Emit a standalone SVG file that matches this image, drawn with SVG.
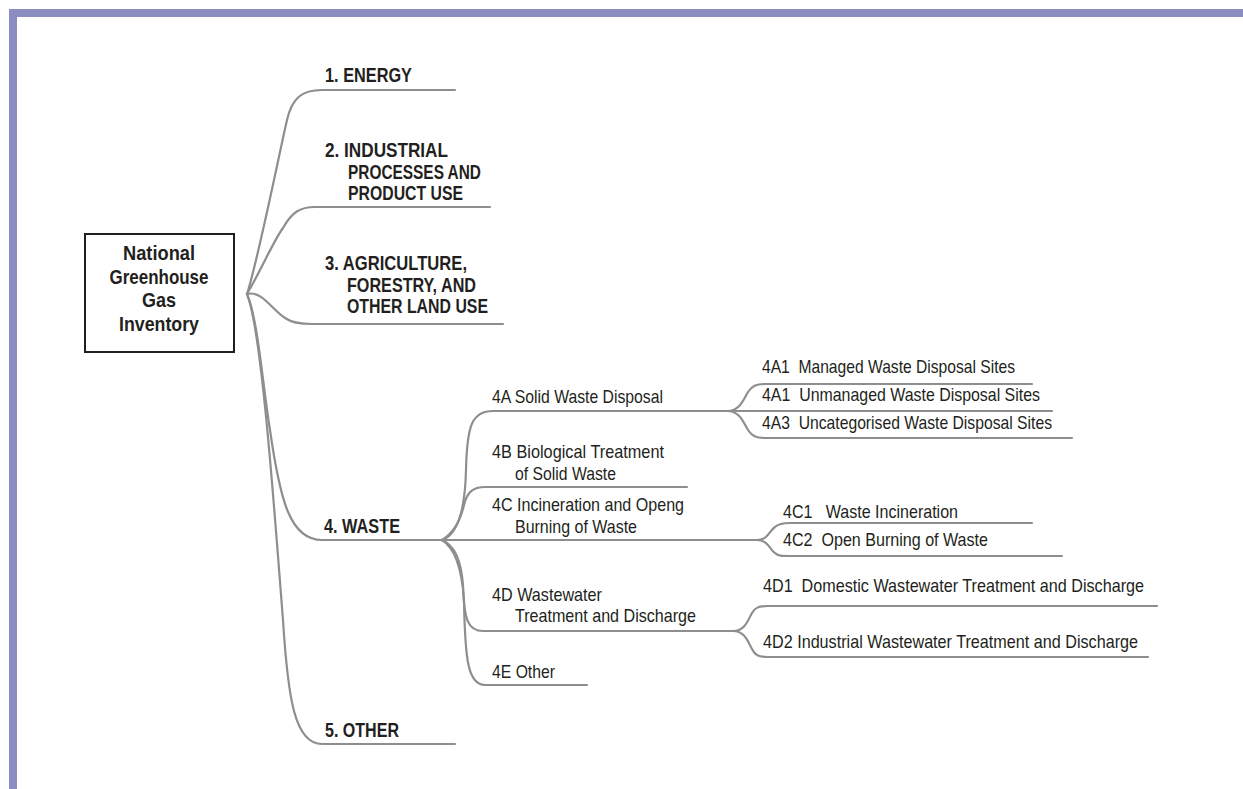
<svg xmlns="http://www.w3.org/2000/svg" width="1243" height="789" viewBox="0 0 1243 789">
<style>
.frame{fill:#8b8cbf}
.c{fill:none;stroke:#8e8e8e;stroke-width:2.2;stroke-linecap:round}
.b{font-family:"Liberation Sans",Arial,sans-serif;font-weight:bold;font-size:21px;fill:#231f20}
.r{font-family:"Liberation Sans",Arial,sans-serif;font-size:18.5px;fill:#231f20}
.box{fill:#fff;stroke:#231f20;stroke-width:2}
</style>
<rect width="1243" height="789" fill="#fff"/>
<rect class="frame" x="9" y="9" width="1234" height="8"/>
<rect class="frame" x="9" y="9" width="8" height="780"/>
<g id="connectors">
<path class="c" d="M247,294 C258,260 280,150 287,120 C292,98 302,90 322,90 L455,90"/>
<path class="c" d="M247,294 C262,268 274,240 283,228 C292,212 300,207 315,207 L490,207"/>
<path class="c" d="M247,294 C262,290 272,310 285,318 C292,323 300,324 312,324 L503,324"/>
<path class="c" d="M247,294 C258,320 262,380 270,430 C280,500 290,540 322,540 L442,540"/>
<path class="c" d="M247,294 C262,330 275,520 283,620 C288,700 295,744 322,744 L455,744"/>
<path class="c" d="M442,540 C458,535 465,510 466,470 C467,425 472,411 493,411 L727,411"/>
<path class="c" d="M442,540 C455,532 461,518 464,505 C467,492 473,487 485,487 L687,487"/>
<path class="c" d="M442,540 L757,540"/>
<path class="c" d="M442,540 C455,546 461,560 463,585 C464,620 468,631 483,631 L735,631"/>
<path class="c" d="M442,540 C455,548 462,570 464,600 C465,660 468,685 485,685 L587,685"/>
<path class="c" d="M727,411 C740,411 743,400 748,392 C752,386 756,384 765,384 L1032,384"/>
<path class="c" d="M727,411 L1052,411"/>
<path class="c" d="M727,411 C740,411 743,422 748,430 C752,436 756,438 765,438 L1072,438"/>
<path class="c" d="M757,540 C768,540 770,530 775,527 C778,524 782,523 790,523 L1032,523"/>
<path class="c" d="M757,540 C768,540 770,550 775,553 C778,556 782,556 790,556 L1062,556"/>
<path class="c" d="M733,631 C745,631 748,620 752,613 C755,608 758,606 768,606 L1157,606"/>
<path class="c" d="M733,631 C745,631 748,642 752,649 C755,655 758,657 768,657 L1148,657"/>
</g>
<g id="root">
<rect class="box" x="85" y="234" width="149" height="118"/>
<text class="b" x="159" y="260" text-anchor="middle" textLength="72" lengthAdjust="spacingAndGlyphs">National</text>
<text class="b" x="159" y="284" text-anchor="middle" textLength="99" lengthAdjust="spacingAndGlyphs">Greenhouse</text>
<text class="b" x="159" y="307" text-anchor="middle" textLength="34" lengthAdjust="spacingAndGlyphs">Gas</text>
<text class="b" x="159" y="331" text-anchor="middle" textLength="80" lengthAdjust="spacingAndGlyphs">Inventory</text>
</g>
<g id="n1">
<text class="b" x="325" y="82" textLength="87" lengthAdjust="spacingAndGlyphs">1. ENERGY</text>
</g>
<g id="n2">
<text class="b" x="325" y="157" textLength="123" lengthAdjust="spacingAndGlyphs">2. INDUSTRIAL</text>
<text class="b" x="348" y="179" textLength="133" lengthAdjust="spacingAndGlyphs">PROCESSES AND</text>
<text class="b" x="348" y="200" textLength="115" lengthAdjust="spacingAndGlyphs">PRODUCT USE</text>
</g>
<g id="n3">
<text class="b" x="325" y="270" textLength="142" lengthAdjust="spacingAndGlyphs">3. AGRICULTURE,</text>
<text class="b" x="347" y="292" textLength="129" lengthAdjust="spacingAndGlyphs">FORESTRY, AND</text>
<text class="b" x="347" y="313" textLength="141" lengthAdjust="spacingAndGlyphs">OTHER LAND USE</text>
</g>
<g id="n4">
<text class="b" x="324" y="533" textLength="76" lengthAdjust="spacingAndGlyphs">4. WASTE</text>
</g>
<g id="n5">
<text class="b" x="325" y="737" textLength="74" lengthAdjust="spacingAndGlyphs">5. OTHER</text>
</g>
<g id="n4A">
<text class="r" x="492" y="403" textLength="171" lengthAdjust="spacingAndGlyphs">4A Solid Waste Disposal</text>
</g>
<g id="n4B">
<text class="r" x="492" y="458" textLength="172" lengthAdjust="spacingAndGlyphs">4B Biological Treatment</text>
<text class="r" x="515" y="480" textLength="101" lengthAdjust="spacingAndGlyphs">of Solid Waste</text>
</g>
<g id="n4C">
<text class="r" x="492" y="511" textLength="192" lengthAdjust="spacingAndGlyphs">4C Incineration and Openg</text>
<text class="r" x="515" y="533" textLength="122" lengthAdjust="spacingAndGlyphs">Burning of Waste</text>
</g>
<g id="n4D">
<text class="r" x="492" y="601" textLength="110" lengthAdjust="spacingAndGlyphs">4D Wastewater</text>
<text class="r" x="515" y="622" textLength="181" lengthAdjust="spacingAndGlyphs">Treatment and Discharge</text>
</g>
<g id="n4E">
<text class="r" x="492" y="678" textLength="63" lengthAdjust="spacingAndGlyphs">4E Other</text>
</g>
<g id="n4A1">
<text class="r" x="762" y="373" textLength="253" lengthAdjust="spacingAndGlyphs" xml:space="preserve">4A1  Managed Waste Disposal Sites</text>
</g>
<g id="n4A2">
<text class="r" x="762" y="401" textLength="278" lengthAdjust="spacingAndGlyphs" xml:space="preserve">4A1  Unmanaged Waste Disposal Sites</text>
</g>
<g id="n4A3">
<text class="r" x="762" y="429" textLength="290" lengthAdjust="spacingAndGlyphs" xml:space="preserve">4A3  Uncategorised Waste Disposal Sites</text>
</g>
<g id="n4C1">
<text class="r" x="783" y="518" textLength="175" lengthAdjust="spacingAndGlyphs" xml:space="preserve">4C1   Waste Incineration</text>
</g>
<g id="n4C2">
<text class="r" x="783" y="546" textLength="205" lengthAdjust="spacingAndGlyphs" xml:space="preserve">4C2  Open Burning of Waste</text>
</g>
<g id="n4D1">
<text class="r" x="763" y="592" textLength="381" lengthAdjust="spacingAndGlyphs" xml:space="preserve">4D1  Domestic Wastewater Treatment and Discharge</text>
</g>
<g id="n4D2">
<text class="r" x="763" y="648" textLength="375" lengthAdjust="spacingAndGlyphs">4D2 Industrial Wastewater Treatment and Discharge</text>
</g>
</svg>
